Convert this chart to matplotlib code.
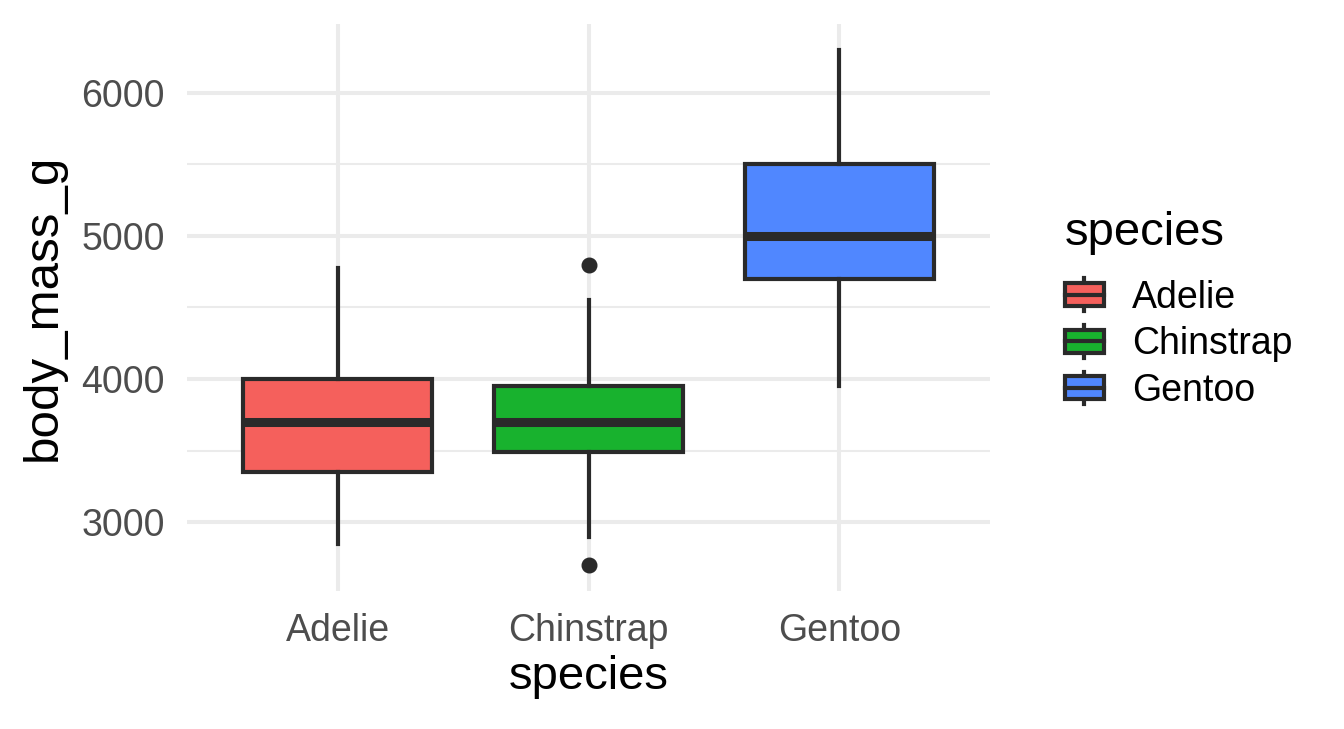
import matplotlib
matplotlib.use("Agg")
import matplotlib.pyplot as plt
from matplotlib.legend_handler import HandlerBase
from matplotlib.patches import Patch, Rectangle
from matplotlib.lines import Line2D
from matplotlib.ticker import MultipleLocator

plt.rcParams['font.family'] = ['Liberation Sans', 'DejaVu Sans']

# Box statistics
species = ["Adelie", "Chinstrap", "Gentoo"]
q1 = [3350, 3487.5, 4700]
median = [3700, 3700, 5000]
q3 = [4000, 3950, 5500]
whisker_lo = [2850, 2900, 3950]
whisker_hi = [4775, 4550, 6300]
outliers = [[], [2700, 4800], []]
colors = ["#F5605C", "#18B22E", "#5087FF"]

LINE = "#2A2A2A"
GRID = "#EBEBEB"
LW = 3.0

stats = []
for i, sp in enumerate(species):
    stats.append(dict(label=sp, med=median[i], q1=q1[i], q3=q3[i],
                      whislo=whisker_lo[i], whishi=whisker_hi[i],
                      fliers=outliers[i]))


class BoxHandler(HandlerBase):
    # small boxplot glyph for the legend keys
    def create_artists(self, legend, orig_handle, xdescent, ydescent,
                       width, height, fontsize, trans):
        face = orig_handle.get_facecolor()
        bh = height * 0.70
        x0 = -xdescent
        y0 = -ydescent + (height - bh) / 2
        mid = -ydescent + height / 2
        cx = x0 + width / 2
        rect = Rectangle((x0, y0), width, bh, facecolor=face,
                         edgecolor=LINE, lw=LW, transform=trans)
        med = Line2D([x0, x0 + width], [mid, mid], color=LINE, lw=LW,
                     transform=trans)
        w1 = Line2D([cx, cx], [-ydescent, y0], color=LINE, lw=LW,
                    transform=trans)
        w2 = Line2D([cx, cx], [y0 + bh, -ydescent + height], color=LINE,
                    lw=LW, transform=trans)
        return [w1, w2, rect, med]


fig = plt.figure(figsize=(13.44, 7.29), dpi=100)
ax = fig.add_axes([187 / 1344, 1 - 591 / 729, (990 - 187) / 1344, (591 - 24) / 729])

positions = list(range(1, len(species) + 1))
bp = ax.bxp(stats, positions=positions, widths=0.75, patch_artist=True,
            showcaps=False,
            boxprops=dict(edgecolor=LINE, linewidth=LW),
            medianprops=dict(color=LINE, linewidth=6.5),
            whiskerprops=dict(color=LINE, linewidth=LW),
            flierprops=dict(marker='o', markersize=10.5, markerfacecolor=LINE,
                            markeredgecolor=LINE))
for patch, c in zip(bp['boxes'], colors):
    patch.set_facecolor(c)
    patch.set_zorder(3)
for key in ('medians', 'whiskers', 'fliers'):
    for art in bp[key]:
        art.set_zorder(3)

ax.set_xlim(0.4, 3.6)
lo = min(min(whisker_lo), min(min(o) for o in outliers if o))
hi = max(whisker_hi)
pad = (hi - lo) * 0.05
ax.set_ylim(lo - pad, hi + pad)

ax.yaxis.set_major_locator(MultipleLocator(1000))
ax.yaxis.set_minor_locator(MultipleLocator(500))
ax.set_xticks(positions)
ax.set_xticklabels(species)

ax.grid(True, which='major', color=GRID, linewidth=2.9, zorder=0)
ax.grid(True, which='minor', axis='y', color=GRID, linewidth=1.5, zorder=0)
ax.set_axisbelow(True)
for s in ax.spines.values():
    s.set_visible(False)
ax.tick_params(which='both', length=0)
ax.tick_params(axis='y', pad=16, labelsize=27, labelcolor='#4D4D4D')
ax.tick_params(axis='x', pad=16, labelsize=27, labelcolor='#4D4D4D')

ax.set_xlabel("species", fontsize=34, labelpad=4)
ax.set_ylabel("body_mass_g", fontsize=35.5, labelpad=11)

handles = [Patch(facecolor=c) for c in colors]
leg = fig.legend(handles, species, handler_map={Patch: BoxHandler()},
                 loc='center left', bbox_to_anchor=(0.781, 0.575),
                 frameon=False, fontsize=27, title="species", title_fontsize=34,
                 alignment='left', handlelength=1.04, handleheight=0.96,
                 labelspacing=0.25, handletextpad=0.75, borderaxespad=0)
# extra room between the legend title and its keys
leg._legend_box.sep = 17

fig.savefig("out.png", dpi=100)
